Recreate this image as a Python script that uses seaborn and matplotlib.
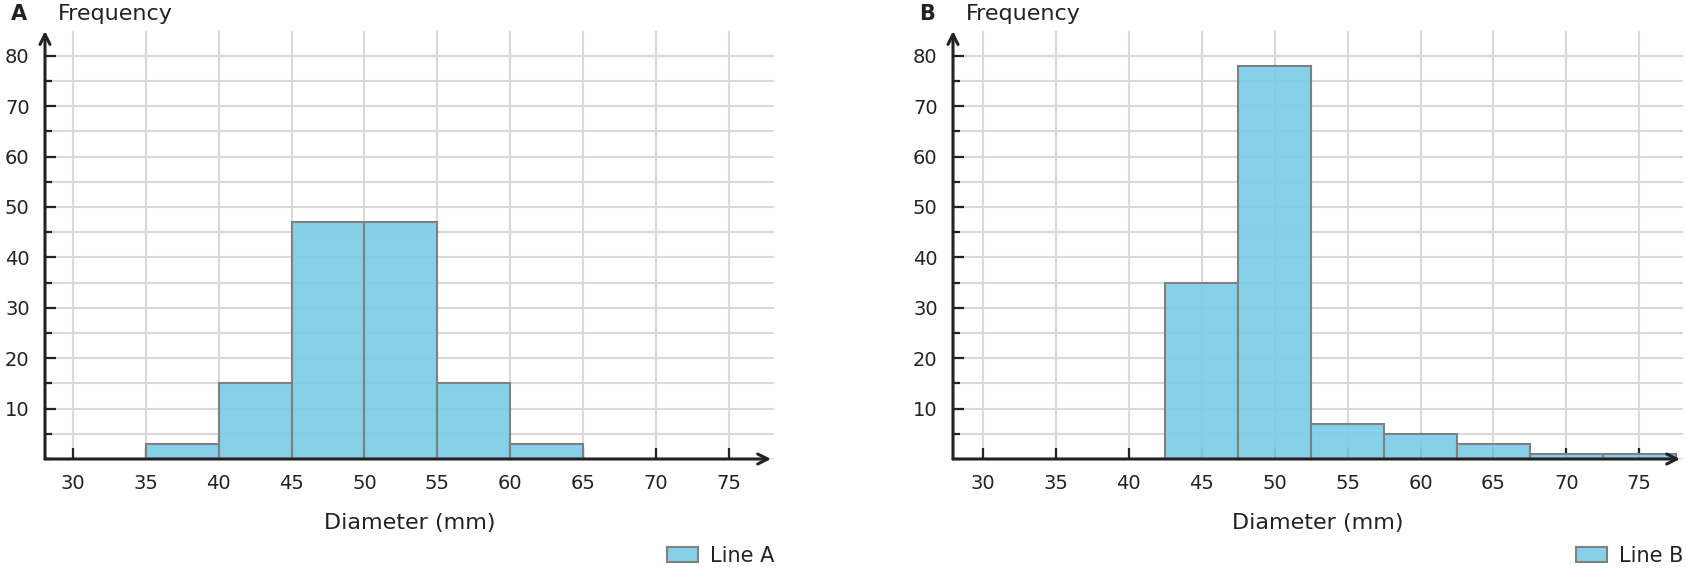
import numpy as np
import pandas as pd
import matplotlib
matplotlib.use("Agg")
import matplotlib.pyplot as plt
import seaborn as sns
from matplotlib.ticker import MultipleLocator

# Data
edges_a = [35, 40, 45, 50, 55, 60, 65]
counts_a = [3, 15, 47, 47, 15, 3]
edges_b = [42.5, 47.5, 52.5, 57.5, 62.5, 67.5, 72.5, 77.5]
counts_b = [35, 78, 7, 5, 3, 1, 1]
x_ticks = [30, 35, 40, 45, 50, 55, 60, 65, 70, 75]
y_ticks = [10, 20, 30, 40, 50, 60, 70, 80]
panel_labels = ["A", "B"]
legend_labels = ["Line A", "Line B"]
xlabel = "Diameter (mm)"
ylabel = "Frequency"

sns.set_style("white")
plt.rcParams['font.family'] = ['DejaVu Sans']

W, H = 1686, 572
fig = plt.figure(figsize=(W / 100, H / 100), dpi=100)

axes_px = [(45, 774, 28.08, 78.1), (953, 1683, 27.94, 78.0)]
top_px, bot_px = 31, 459
dark = "#222222"
fill = "#7ECDE8"

for i, (edges, counts) in enumerate([(edges_a, counts_a), (edges_b, counts_b)]):
    l, r, xmin, xmax = axes_px[i]
    ax = fig.add_axes([l / W, 1 - bot_px / H, (r - l) / W, (bot_px - top_px) / H])
    centers = [(edges[j] + edges[j + 1]) / 2 for j in range(len(counts))]
    df = pd.DataFrame({"x": centers, "w": counts})
    sns.histplot(data=df, x="x", weights="w", bins=edges, ax=ax,
                 color=fill, alpha=0.93, edgecolor="#808080", linewidth=1.5,
                 label=legend_labels[i], zorder=3)
    ax.set_xlim(xmin, xmax)
    ax.set_ylim(0, 84.9)
    ax.set_xticks(x_ticks)
    ax.set_yticks(y_ticks)
    ax.yaxis.set_minor_locator(MultipleLocator(5))
    ax.grid(True, which="both", color="#d9d9d9", linewidth=1.5, zorder=0)
    ax.set_axisbelow(True)
    for s in ["top", "right", "left", "bottom"]:
        ax.spines[s].set_visible(False)
    ax.tick_params(axis="x", which="major", bottom=True, direction="in", length=8,
                   width=1.6, color=dark, labelsize=14, pad=11, labelcolor=dark)
    ax.tick_params(axis="x", which="minor", bottom=False)
    ax.tick_params(axis="y", which="major", left=True, direction="in", length=8,
                   width=1.6, color=dark, labelsize=14, pad=11, labelcolor=dark)
    ax.tick_params(axis="y", which="minor", left=True, direction="in", length=5,
                   width=1.6, color=dark)
    ax.set_xlabel(xlabel, fontsize=16, color=dark, labelpad=14)
    ax.set_ylabel("")
    # axis arrows
    ax.annotate("", xy=(0, 1.0), xytext=(0, 0), xycoords="axes fraction",
                arrowprops=dict(arrowstyle="->", lw=2.2, color=dark,
                                shrinkA=0, shrinkB=0, mutation_scale=18),
                annotation_clip=False, zorder=5)
    ax.annotate("", xy=(0.996, 0), xytext=(0, 0), xycoords="axes fraction",
                arrowprops=dict(arrowstyle="->", lw=2.2, color=dark,
                                shrinkA=0, shrinkB=0, mutation_scale=18),
                annotation_clip=False, zorder=5)
    # panel label and y label
    fig.text((l - 34) / W, 1 - 14 / H, panel_labels[i], fontsize=15,
             fontweight="bold", color=dark, va="center", ha="left")
    fig.text((l + 13) / W, 1 - 14 / H, ylabel, fontsize=16, color=dark,
             va="center", ha="left")
    leg = ax.legend(loc="center right", bbox_to_anchor=(r / W, 1 - 556 / H),
                    bbox_transform=fig.transFigure, frameon=False, fontsize=15,
                    handlelength=1.5, handleheight=0.75, handletextpad=0.55,
                    borderaxespad=0, borderpad=0)
    for t in leg.get_texts():
        t.set_color(dark)

fig.savefig("out.png", dpi=100)
